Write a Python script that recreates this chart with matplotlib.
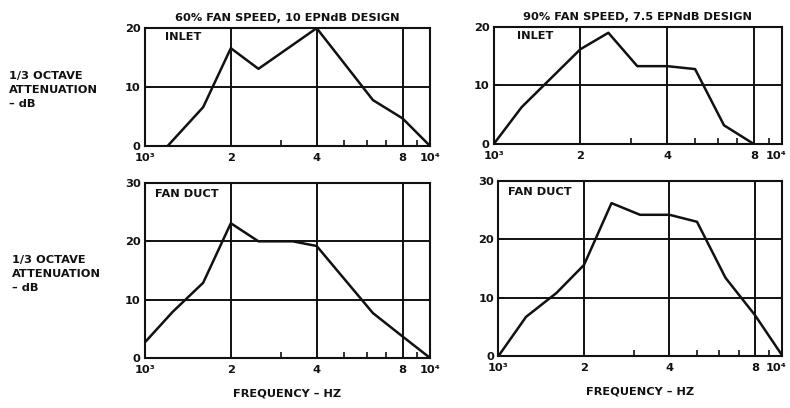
import numpy as np
import matplotlib
matplotlib.use("Agg")
import matplotlib.pyplot as plt
import matplotlib.transforms as mtransforms
from matplotlib.ticker import FixedLocator, NullFormatter

# 1/3 octave band data
# 60% fan speed, 10 EPNdB design
inlet60_freq = [1200, 1600, 2000, 2500, 4000, 6300, 8000, 10000]
inlet60_att = [0, 6.6, 16.6, 13.1, 20, 7.8, 4.7, 0]
duct60_freq = [1000, 1250, 1600, 2000, 2500, 3300, 4000, 6300, 8000, 10000]
duct60_att = [2.7, 7.9, 12.9, 23.1, 20, 20, 19.2, 7.7, 3.7, 0]

# 90% fan speed, 7.5 EPNdB design
inlet90_freq = [1000, 1250, 2000, 2500, 3150, 4000, 5000, 6300, 8000]
inlet90_att = [0, 6.3, 16.2, 19.0, 13.3, 13.3, 12.8, 3.2, 0]
duct90_freq = [1000, 1250, 1600, 2000, 2500, 3150, 4000, 5000, 6300, 8000, 10000]
duct90_att = [0, 6.7, 10.8, 15.6, 26.2, 24.2, 24.2, 23.0, 13.4, 7.0, 0]

titles = ["60% FAN SPEED, 10 EPNdB DESIGN", "90% FAN SPEED, 7.5 EPNdB DESIGN"]
major_ticks = [1000, 2000, 4000, 8000, 10000]
major_labels = ["10\u00b3", "2", "4", "8", "10\u2074"]
minor_ticks = [3000, 5000, 6000, 7000, 9000]

INK = "#111111"
FS = 8.2
plt.rcParams["font.family"] = ["DejaVu Sans"]
plt.rcParams["font.weight"] = "bold"
plt.rcParams["axes.titleweight"] = "bold"
plt.rcParams["axes.labelweight"] = "bold"
plt.rcParams["font.size"] = FS
plt.rcParams["text.color"] = INK

fig = plt.figure(figsize=(7.9, 4.08), dpi=100)

boxes = {
    "tl": [0.1835, 0.642, 0.361, 0.289],
    "tr": [0.625, 0.647, 0.3646, 0.287],
    "bl": [0.1835, 0.1225, 0.361, 0.429],
    "br": [0.631, 0.1275, 0.3595, 0.429],
}


def style_axis(ax, ymax, yticks, grid_y, label, lx):
    ax.set_xscale("log")
    ax.set_xlim(1000, 10000)
    ax.set_ylim(0, ymax)
    ax.xaxis.set_major_locator(FixedLocator(major_ticks))
    ax.set_xticklabels(major_labels)
    ax.xaxis.set_minor_locator(FixedLocator(minor_ticks))
    ax.xaxis.set_minor_formatter(NullFormatter())
    ax.set_yticks(yticks)
    ax.tick_params(axis="x", which="major", length=0, pad=5, labelsize=FS, colors=INK)
    ax.tick_params(axis="x", which="minor", direction="in", length=4, width=1.2, color=INK)
    ax.tick_params(axis="y", direction="in", length=4, width=1.2, pad=3, labelsize=FS, colors=INK)
    for s in ax.spines.values():
        s.set_linewidth(1.5)
        s.set_color(INK)
    for f in [2000, 4000, 8000]:
        ax.axvline(f, color=INK, lw=1.4, zorder=1)
    for g in grid_y:
        ax.axhline(g, color=INK, lw=1.4, zorder=1)
    ax.text(lx, 0.965, label, transform=ax.transAxes, ha="left", va="top",
            fontsize=FS, color=INK)


def pull_last_label(ax):
    # keep the 10^4 label inside the figure edge
    lab = ax.get_xticklabels()[-1]
    off = mtransforms.ScaledTranslation(-6 / 100, 0, fig.dpi_scale_trans)
    lab.set_transform(lab.get_transform() + off)


ax_tl = fig.add_axes(boxes["tl"])
ax_tl.plot(inlet60_freq, inlet60_att, color=INK, lw=1.8, zorder=3)
style_axis(ax_tl, 20, [0, 10, 20], [10], "INLET", 0.07)
ax_tl.set_title(titles[0], fontsize=FS, pad=5, color=INK)

ax_tr = fig.add_axes(boxes["tr"])
ax_tr.plot(inlet90_freq, inlet90_att, color=INK, lw=1.8, zorder=3)
style_axis(ax_tr, 20, [0, 10, 20], [10], "INLET", 0.08)
ax_tr.set_title(titles[1], fontsize=FS, pad=5, color=INK)
pull_last_label(ax_tr)

ax_bl = fig.add_axes(boxes["bl"])
ax_bl.plot(duct60_freq, duct60_att, color=INK, lw=1.8, zorder=3)
style_axis(ax_bl, 30, [0, 10, 20, 30], [10, 20], "FAN DUCT", 0.035)
ax_bl.set_xlabel("FREQUENCY \u2013 HZ", labelpad=10, fontsize=FS, color=INK)

ax_br = fig.add_axes(boxes["br"])
ax_br.plot(duct90_freq, duct90_att, color=INK, lw=1.8, zorder=3)
style_axis(ax_br, 30, [0, 10, 20, 30], [10, 20], "FAN DUCT", 0.035)
ax_br.set_xlabel("FREQUENCY \u2013 HZ", labelpad=10, fontsize=FS, color=INK)
pull_last_label(ax_br)

ylab = "1/3 OCTAVE\nATTENUATION\n\u2013 dB"
fig.text(0.011, 1 - 90 / 408, ylab, ha="left", va="center", fontsize=FS,
         linespacing=1.55, color=INK)
fig.text(0.015, 1 - 274 / 408, ylab, ha="left", va="center", fontsize=FS,
         linespacing=1.55, color=INK)

fig.savefig("out.png", dpi=100)
